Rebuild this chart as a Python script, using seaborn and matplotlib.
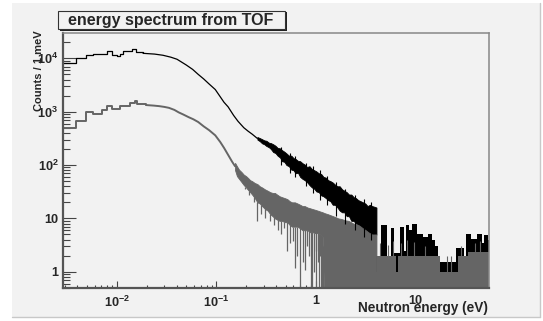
import numpy as np
import pandas as pd
import matplotlib
matplotlib.use('Agg')
import matplotlib.pyplot as plt
from matplotlib.patches import Rectangle
from matplotlib.lines import Line2D
from matplotlib.ticker import LogLocator, NullFormatter
import seaborn as sns

# black spectrum, clean part (energy in eV, counts / 1 meV); the first 12 are wide bins
black_e = [0.0029, 0.0039, 0.0049, 0.0058, 0.0080, 0.0090, 0.0101, 0.0108, 0.0116,
           0.0143, 0.0156, 0.0184, 0.0240, 0.0292, 0.035, 0.0404, 0.050, 0.058,
           0.066, 0.075, 0.085, 0.098, 0.110, 0.120, 0.132, 0.150, 0.166, 0.190,
           0.210, 0.230, 0.260]
black_c = [8300, 10000, 11500, 11900, 13700, 11500, 10900, 11900, 13700,
           14700, 13300, 12400, 12000, 11400, 10500, 9600, 7500, 6200,
           5000, 4100, 3300, 2600, 1900, 1500, 1230, 850, 660, 500,
           430, 380, 315]
# black, noisy band 0.26 - 4.1 eV (lower / upper edge of the band)
black_band_e = [0.26, 0.275, 0.29, 0.305, 0.32, 0.34, 0.355, 0.375, 0.395, 0.415, 0.44,
                0.46, 0.485, 0.51, 0.54, 0.57, 0.60, 0.63, 0.665, 0.70, 0.74, 0.78,
                0.82, 0.87, 0.92, 0.97, 1.02, 1.08, 1.14, 1.2, 1.27, 1.34, 1.41,
                1.49, 1.57, 1.66, 1.75, 1.85, 1.95, 2.06, 2.17, 2.29, 2.42, 2.55,
                2.69, 2.84, 3.0, 3.17, 3.34, 3.52, 3.72, 3.92, 4.1]
black_band_lo = [300, 280, 255, 245, 228, 215, 200, 175, 168, 150, 138,
                 118, 115, 100, 95, 82, 80, 70, 72, 60, 55, 52,
                 48, 42, 38, 36, 32, 31, 27, 26, 24, 22, 21,
                 18, 18, 16, 14, 13, 13, 11, 11, 9, 9, 8,
                 7.5, 7, 6, 5.5, 5.5, 5, 4.8, 5, 5]
black_band_hi = [335, 320, 305, 290, 285, 262, 258, 245, 230, 210, 205,
                 190, 178, 165, 150, 150, 135, 130, 120, 118, 108, 102,
                 92, 95, 84, 80, 76, 70, 68, 60, 58, 52, 50,
                 47, 43, 40, 40, 35, 33, 31, 28, 28, 25, 24,
                 22, 21, 20, 19, 17, 18, 17, 16.5, 16]
black_spike_e = [0.45, 0.55, 0.62, 0.8, 0.95, 1.1, 1.3, 1.6, 2.0, 2.5, 3.1, 3.6]
black_spike_lo = [100, 70, 60, 40, 30, 22, 18, 11, 8, 6, 4.5, 4]
black_spike_hi = [215, 170, 150, 110, 95, 80, 62, 48, 36, 27, 23, 20]
# black, sparse tail above 4 eV
black_tail_e = [4.1, 4.6, 5.2, 5.8, 6.2, 7.0, 7.8, 8.1, 8.8, 9.3, 10.5, 12.0, 13.5,
                15.0, 16.0, 16.9, 26.0, 31.0, 33.0, 37.0, 42.0, 47.0, 50.0, 54.0, 56.0]
black_tail_c = [2.0, 7.5, 2.0, 6.5, 2.2, 6.8, 2.5, 7.5, 6.0, 8.0, 5.0, 4.5, 5.0,
                4.0, 3.0, 1.5, 2.8, 2.0, 5.0, 4.2, 5.0, 3.4, 4.8, 4.0, 4.0]

# gray spectrum, clean part; the first 12 are wide bins
gray_e = [0.0029, 0.0039, 0.0049, 0.0058, 0.0071, 0.0080, 0.0090, 0.0108, 0.0135,
          0.0151, 0.0161, 0.0198, 0.0235, 0.0267, 0.030, 0.0335, 0.038, 0.042,
          0.047, 0.0528, 0.059, 0.066, 0.075, 0.085, 0.098, 0.110, 0.120, 0.132,
          0.145, 0.155]
gray_c = [490, 680, 980, 905, 1090, 1300, 1120, 1300, 1450,
          1570, 1390, 1330, 1300, 1270, 1230, 1180, 1080, 970,
          880, 790, 720, 640, 530, 450, 360, 270, 210, 155,
          115, 95]
# gray, noisy band (lower edge 0.1 = empty bins below the axis)
gray_band_e = [0.155, 0.162, 0.17, 0.18, 0.19, 0.20, 0.21, 0.22, 0.23, 0.245, 0.26,
               0.275, 0.29, 0.31, 0.33, 0.35, 0.37, 0.39, 0.41, 0.435, 0.46, 0.49,
               0.52, 0.55, 0.58, 0.62, 0.66, 0.70, 0.74, 0.78, 0.83, 0.88, 0.93,
               0.99, 1.05, 1.11, 1.18, 1.24, 1.33, 1.41, 1.5, 1.6, 1.69, 1.8, 1.9,
               2.0, 2.14, 2.27, 2.4, 2.55, 2.7, 2.85, 3.0, 3.2, 3.4, 3.7, 4.1]
gray_band_lo = [80, 62, 55, 48, 42, 38, 34, 31, 28, 24, 20,
                19, 17, 15, 14, 12, 11, 10, 9.5, 9, 9, 8.5,
                8.5, 7.5, 7, 7, 7, 6.5, 6, 6, 6, 5.5, 5.5,
                5.3, 5.3, 5, 4.5, 0.1, 0.1, 0.1, 0.1, 0.1, 0.1, 0.1, 0.1,
                0.1, 0.1, 0.1, 0.1, 0.1, 0.1, 0.1, 0.1, 0.1, 0.1, 0.1, 0.1]
gray_band_hi = [110, 95, 82, 74, 66, 62, 57, 52, 50, 46, 44,
                40, 38, 35, 33, 31, 30, 30, 28, 26, 25, 24,
                23, 21, 20, 20, 19, 18, 17, 17, 16, 15.5, 15,
                14.5, 14, 13.5, 13, 12.5, 12, 11.5, 11, 10.5, 10, 9.8, 9.5,
                9.2, 9, 8.5, 8, 7.8, 7.5, 7, 6.5, 6, 5.5, 5, 5]
# gray, single bins dropping out of the band
gray_dip_e = [0.196, 0.215, 0.24, 0.26, 0.285, 0.31, 0.35, 0.38, 0.42, 0.45, 0.48,
              0.52, 0.55, 0.59, 0.62, 0.65, 0.70, 0.74, 0.78, 0.82, 0.86, 0.89,
              0.93, 0.97, 1.0, 1.02, 1.05, 1.08, 1.11, 1.13, 1.16, 1.20]
gray_dip_c = [36, 28, 20, 9, 12, 10, 9, 7.5, 6, 5, 6.7,
              2.5, 3.5, 3.8, 1.2, 2, 0.1, 1.5, 1.1, 3, 2, 0.1,
              0.1, 1, 2.5, 0.1, 1.5, 0.1, 2, 0.1, 0.1, 0.1]
# gray, sparse tail above 4 eV
gray_tail_e = [4.1, 4.2, 6.5, 6.7, 18.0, 27.0, 34.0, 56.0]
gray_tail_c = [1.0, 2.0, 1.0, 2.0, 1.0, 2.0, 2.3, 2.3]
gray_spike_e = [4.5, 5.4, 6.0, 7.3, 8.3, 9.8, 12.5, 21.0, 23.0, 29.0, 40.0, 45.0]
gray_spike_c = [3.5, 3.2, 3.8, 3.4, 4.0, 3.6, 3.0, 2.0, 2.0, 3.0, 3.5, 3.8]

x_ticks = [0.01, 0.1, 1, 10]
x_labels = [r'$\mathbf{10^{-2}}$', r'$\mathbf{10^{-1}}$', '1', '10']
y_ticks = [1, 10, 100, 1000, 10000]
y_labels = ['1', '10', r'$\mathbf{10^{2}}$', r'$\mathbf{10^{3}}$', r'$\mathbf{10^{4}}$']

n_wide = 12  # wide low-energy bins drawn as steps
bg = '#f2f2f2'
black = '#000000'
gray = '#656565'

sns.set_style('ticks')
plt.rcParams['font.family'] = ['Liberation Sans', 'DejaVu Sans']
plt.rcParams['mathtext.fontset'] = 'custom'
plt.rcParams['mathtext.bf'] = 'Liberation Sans:bold'
plt.rcParams['mathtext.rm'] = 'Liberation Sans'

fig = plt.figure(figsize=(5.43, 3.21), dpi=100, facecolor='white')
fig.patches.append(Rectangle((12 / 543, 1 - 317 / 321), 528 / 543, 314 / 321,
                             transform=fig.transFigure, fc=bg, ec='none', zorder=-5))
fig.lines.append(Line2D([540 / 543, 540 / 543], [1 - 317 / 321, 1 - 3 / 321],
                        transform=fig.transFigure, color='#c8c8c8', lw=1, zorder=-4))
fig.lines.append(Line2D([12 / 543, 540 / 543], [1 - 317 / 321, 1 - 317 / 321],
                        transform=fig.transFigure, color='#c8c8c8', lw=1, zorder=-4))

ax = fig.add_axes([63.3 / 543, 1 - 288.3 / 321, 425.7 / 543, 255.3 / 321])
ax.set_facecolor(bg)
ax.set_xscale('log')
ax.set_yscale('log')

# black histogram
sns.lineplot(x=black_e[:n_wide], y=black_c[:n_wide], drawstyle='steps-post',
             estimator=None, sort=False, color=black, lw=0.9, ax=ax)
sns.lineplot(x=black_e[n_wide - 1:], y=black_c[n_wide - 1:], estimator=None, sort=False,
             color=black, lw=0.9, ax=ax)
ax.fill_between(black_band_e, black_band_lo, black_band_hi, color=black, lw=0.6)
ax.vlines(black_spike_e, black_spike_lo, black_spike_hi, color=black, lw=0.8)
ax.fill_between(black_tail_e, 0.1, black_tail_c, step='post', color=black, lw=0)

# gray histogram
sns.lineplot(x=gray_e[:n_wide], y=gray_c[:n_wide], drawstyle='steps-post',
             estimator=None, sort=False, color=gray, lw=1.4, ax=ax)
sns.lineplot(x=gray_e[n_wide - 1:], y=gray_c[n_wide - 1:], estimator=None, sort=False,
             color=gray, lw=1.4, ax=ax)
ax.fill_between(gray_band_e, gray_band_lo, gray_band_hi, color=gray, lw=0.6)
dip_top = np.interp(np.log(gray_dip_e), np.log(gray_band_e), gray_band_lo)
ax.vlines(gray_dip_e, gray_dip_c, dip_top, color=gray, lw=0.9)
ax.fill_between(gray_tail_e, 0.1, gray_tail_c, step='post', color=gray, lw=0)
ax.vlines(gray_spike_e, 0.1, gray_spike_c, color=gray, lw=0.8)

ax.set_xlim(0.0029, 55.6)
ax.set_ylim(0.49, 29800)

ax.set_xticks(x_ticks, x_labels, fontweight='bold', fontsize=9.2)
ax.set_yticks(y_ticks, y_labels, fontweight='bold', fontsize=9.2)
ax.xaxis.set_minor_locator(LogLocator(base=10, subs=np.arange(2, 10)))
ax.yaxis.set_minor_locator(LogLocator(base=10, subs=np.arange(2, 10)))
ax.xaxis.set_minor_formatter(NullFormatter())
ax.yaxis.set_minor_formatter(NullFormatter())
ax.tick_params(axis='both', which='both', direction='in', color='#444444', width=0.8)
ax.tick_params(axis='y', which='major', length=9.5, pad=3.5)
ax.tick_params(axis='y', which='minor', length=4.8)
ax.tick_params(axis='x', which='major', length=5, pad=5)
ax.tick_params(axis='x', which='minor', length=2.5)

for side in ['left', 'bottom']:
    ax.spines[side].set_color('#555555')
    ax.spines[side].set_linewidth(1.6)
for side in ['top', 'right']:
    ax.spines[side].set_visible(True)
    ax.spines[side].set_color('#888888')
    ax.spines[side].set_linewidth(1.1)

ax.set_xlabel('')
ax.set_ylabel('')
fig.text(39 / 543, 1 - 30 / 321, 'Counts / 1 meV', rotation=90, ha='center', va='top',
         fontsize=8, fontweight='bold')
fig.text(488 / 543, 1 - 315 / 321, 'Neutron energy (eV)', ha='right', va='bottom',
         fontsize=9.8, fontweight='bold')

# title box with shadow
fig.patches.append(Rectangle((59.5 / 543, 1 - 30.5 / 321), 227 / 543, 18 / 321,
                             transform=fig.transFigure, fc='#222222', ec='none', zorder=2))
fig.patches.append(Rectangle((58 / 543, 1 - 29 / 321), 227 / 543, 18 / 321,
                             transform=fig.transFigure, fc=bg, ec='#333333', lw=0.8, zorder=3))
fig.text(68 / 543, 1 - 20.5 / 321, 'energy spectrum from TOF', ha='left', va='center',
         fontsize=11.5, fontweight='bold', zorder=4)

fig.savefig('out.png', dpi=100, facecolor='white')
